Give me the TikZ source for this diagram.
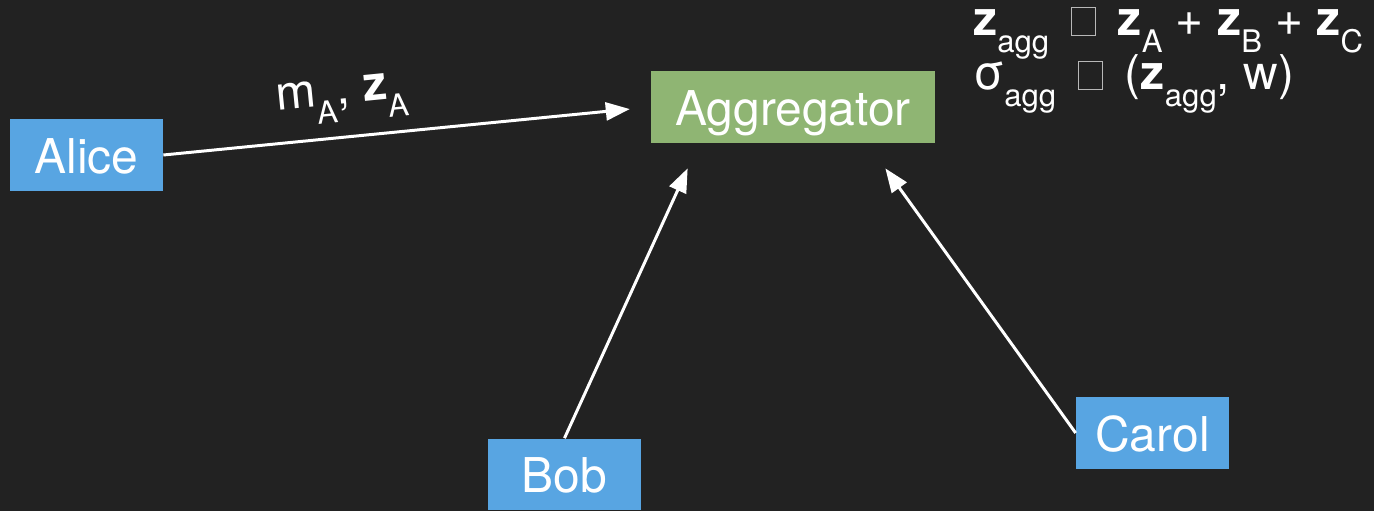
\documentclass[tikz,border=0pt]{standalone}
\usepackage{fontspec}
\setmainfont{TeX Gyre Heros}
\usepackage{xcolor}
\usetikzlibrary{positioning,calc,arrows.meta}

\definecolor{bgdark}{HTML}{222222}
\definecolor{partyblue}{HTML}{58A5E2}
\definecolor{agggreen}{HTML}{8FB573}
\definecolor{tofugray}{HTML}{B8B8B8}

\newcommand{\lowsub}[1]{\raisebox{-0.375em}{\fontsize{17.7pt}{20pt}\selectfont #1}}
\newcommand{\tofu}{\hspace{0.18em}{\color{tofugray}\setlength{\fboxsep}{0pt}\setlength{\fboxrule}{0.5pt}\fbox{\rule{0pt}{0.57em}\hspace{0.48em}}}\hspace{0.18em}}

\begin{document}
\begin{tikzpicture}[x=0.02cm,y=-0.02cm,
    every node/.style={text=white,font=\fontsize{27.3pt}{28.5pt}\selectfont},
    party/.style={fill=partyblue,minimum width=3.06cm,minimum height=1.44cm,inner sep=0pt,text height=0.72cm,text depth=0pt},
    hub/.style={fill=agggreen,minimum width=5.68cm,minimum height=1.44cm,inner sep=0pt,text height=0.72cm,text depth=0pt},
    msg/.style={draw=white,line width=1.7pt,-{Triangle[length=0.48cm,width=0.36cm]}}]
    % background
    \fill[bgdark] (0,0) rectangle (1374,511);
    \useasboundingbox (0,0) rectangle (1374,511);

    % parties and aggregator
    \node[party] (alice) at (86.5,155) {Alice};
    \node[hub] (agg) at (793,107) {Aggregator};
    \node[party] (bob) at (564.5,474.5) {Bob};
    \node[party] (carol) at (1152.5,433) {Carol};

    % where the arrows stop
    \coordinate (bobtip) at ($(agg.south west)+(37,25)$);
    \coordinate (caroltip) at ($(agg.south east)+(-50,25)$);

    % messages
    \draw[msg,shorten >=0.42cm] (alice.east) -- node[sloped,above=0.28cm,inner sep=0pt,pos=0.375] (alicemsg) {m\lowsub{A}, \textbf{z}\lowsub{A}} (agg.west);
    \draw[msg] (bob.north) -- (bobtip);
    \draw[msg] (carol.west) -- (caroltip);

    % aggregation
    \node[anchor=base west,inner sep=0pt] (sumline) at (973,35) {\textbf{z}\lowsub{agg} \tofu{} \textbf{z}\lowsub{A} + \textbf{z}\lowsub{B} + \textbf{z}\lowsub{C}};
    \node[anchor=base west,inner sep=0pt] (sigline) at (973,89) {σ\lowsub{agg} \tofu{} (\textbf{z}\lowsub{agg}, w)};
\end{tikzpicture}
\end{document}
